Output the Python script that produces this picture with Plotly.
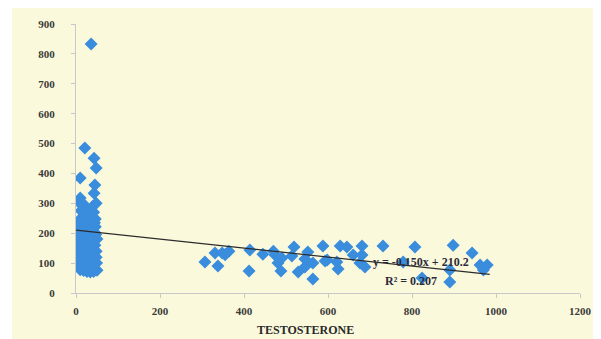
import plotly.graph_objects as go

# ---- data ----
low_x = [36, 21, 43, 48, 10, 45, 43, 10, 48, 40,
         8, 15, 25, 35, 42, 12, 20, 30, 38, 46,
         18, 28, 33, 40, 46, 6, 14, 22, 30, 37,
         44, 10, 18, 26, 34, 42, 50, 5, 13, 21,
         29, 37, 45, 8, 16, 24, 32, 40, 48, 5,
         12, 20, 28, 36, 44, 9, 17, 25, 33, 41,
         49, 6, 14, 22, 30, 38, 46, 10, 18, 26,
         34, 42, 50, 7, 15, 23, 31, 39, 47, 12,
         25, 38, 48, 20, 35, 8, 16, 28, 44, 24]
low_y = [833, 485, 451, 418, 385, 361, 334, 318, 300, 290,
         305, 292, 283, 278, 270, 275, 262, 258, 252, 248,
         244, 238, 232, 228, 222, 226, 218, 214, 210, 206,
         203, 200, 196, 192, 188, 185, 181, 178, 175, 170,
         167, 164, 160, 158, 154, 150, 147, 144, 140, 137,
         134, 130, 127, 124, 120, 117, 114, 110, 107, 104,
         100, 97, 94, 90, 87, 84, 80, 78, 75, 72,
         70, 72, 76, 86, 106, 124, 140, 170, 196, 160,
         180, 198, 120, 100, 95, 245, 300, 215, 235, 268]

high_x = [307, 338, 331, 348, 364, 414, 412, 445, 474, 481,
          490, 488, 519, 514, 529, 545, 552, 545, 564, 564,
          588, 593, 629, 645, 660, 681, 681, 731, 598, 621,
          624, 676, 688, 779, 807, 898, 943, 890, 962, 979,
          970, 890, 824, 355, 470]
high_y = [104, 90, 134, 134, 140, 144, 74, 130, 127, 100,
          117, 74, 154, 124, 70, 87, 137, 114, 100, 47,
          157, 107, 157, 154, 127, 157, 127, 157, 110, 104,
          80, 100, 87, 104, 154, 160, 134, 37, 94, 94,
          77, 77, 50, 128, 140]

slope = -0.150
intercept = 210.2
trend_x = [0, 985]
trend_y = [intercept + slope * v for v in trend_x]

x_ticks = [0, 200, 400, 600, 800, 1000, 1200]
y_ticks = [0, 100, 200, 300, 400, 500, 600, 700, 800, 900]
x_title = "TESTOSTERONE"

blue = "#3a8ddc"
serif = "Liberation Serif, Times New Roman, serif"

fig = go.Figure()
fig.add_trace(go.Scatter(x=low_x + high_x, y=low_y + high_y, mode="markers",
                         marker=dict(symbol="diamond", size=10, color=blue),
                         showlegend=False, hoverinfo="skip"))
fig.add_trace(go.Scatter(x=trend_x, y=trend_y, mode="lines",
                         line=dict(color="#2b2b2b", width=1.2),
                         showlegend=False, hoverinfo="skip"))

# page body has an 8px margin; the figure is sized to fill the rest
OFF = 8
W, H = 601 - OFF, 339 - OFF
L, R, T, B = 76 - OFF, 21, 24 - OFF, 46
pw, ph = W - L - R, H - T - B

def px(xs):
    return (xs - OFF - L) / pw

def py(ys):
    return (H - B - (ys - OFF)) / ph

fig.add_shape(type="rect", xref="paper", yref="paper", x0=px(12), x1=px(601),
              y0=py(339), y1=py(8), fillcolor="#fbf9dc", line_width=0, layer="below")

ann_font = dict(family=serif, size=12, color="#2a2a3a", weight="bold")
fig.add_annotation(x=px(421), y=py(262), xref="paper", yref="paper",
                   xanchor="center", yanchor="middle",
                   text="y = -0.150x + 210.2", showarrow=False, font=ann_font)
fig.add_annotation(x=px(411), y=py(281), xref="paper", yref="paper",
                   xanchor="center", yanchor="middle",
                   text="R² = 0.207", showarrow=False, font=ann_font)
fig.add_annotation(x=px(305), y=py(330), xref="paper", yref="paper",
                   xanchor="center", yanchor="middle",
                   text=x_title, showarrow=False,
                   font=dict(family=serif, size=12, color="#2a2a2a", weight="bold"))

axis_font = dict(family=serif, size=11, color="#3a3a3a", weight="bold")
fig.update_xaxes(range=[0, 1200], tickvals=x_ticks, showgrid=False, zeroline=False,
                 showline=True, linecolor="#c8c8c8", linewidth=1,
                 ticks="outside", ticklen=4, tickcolor="#c8c8c8",
                 tickfont=axis_font, ticklabelstandoff=4, automargin=False)
fig.update_yaxes(range=[0, 900], tickvals=y_ticks, showgrid=False, zeroline=False,
                 showline=True, linecolor="#c8c8c8", linewidth=1,
                 ticks="outside", ticklen=4, tickcolor="#c8c8c8",
                 tickfont=axis_font, ticklabelstandoff=14, automargin=False)

fig.update_layout(width=W, height=H, margin=dict(l=L, r=R, t=T, b=B),
                  paper_bgcolor="white", plot_bgcolor="rgba(0,0,0,0)")

fig.write_html("out.html")
